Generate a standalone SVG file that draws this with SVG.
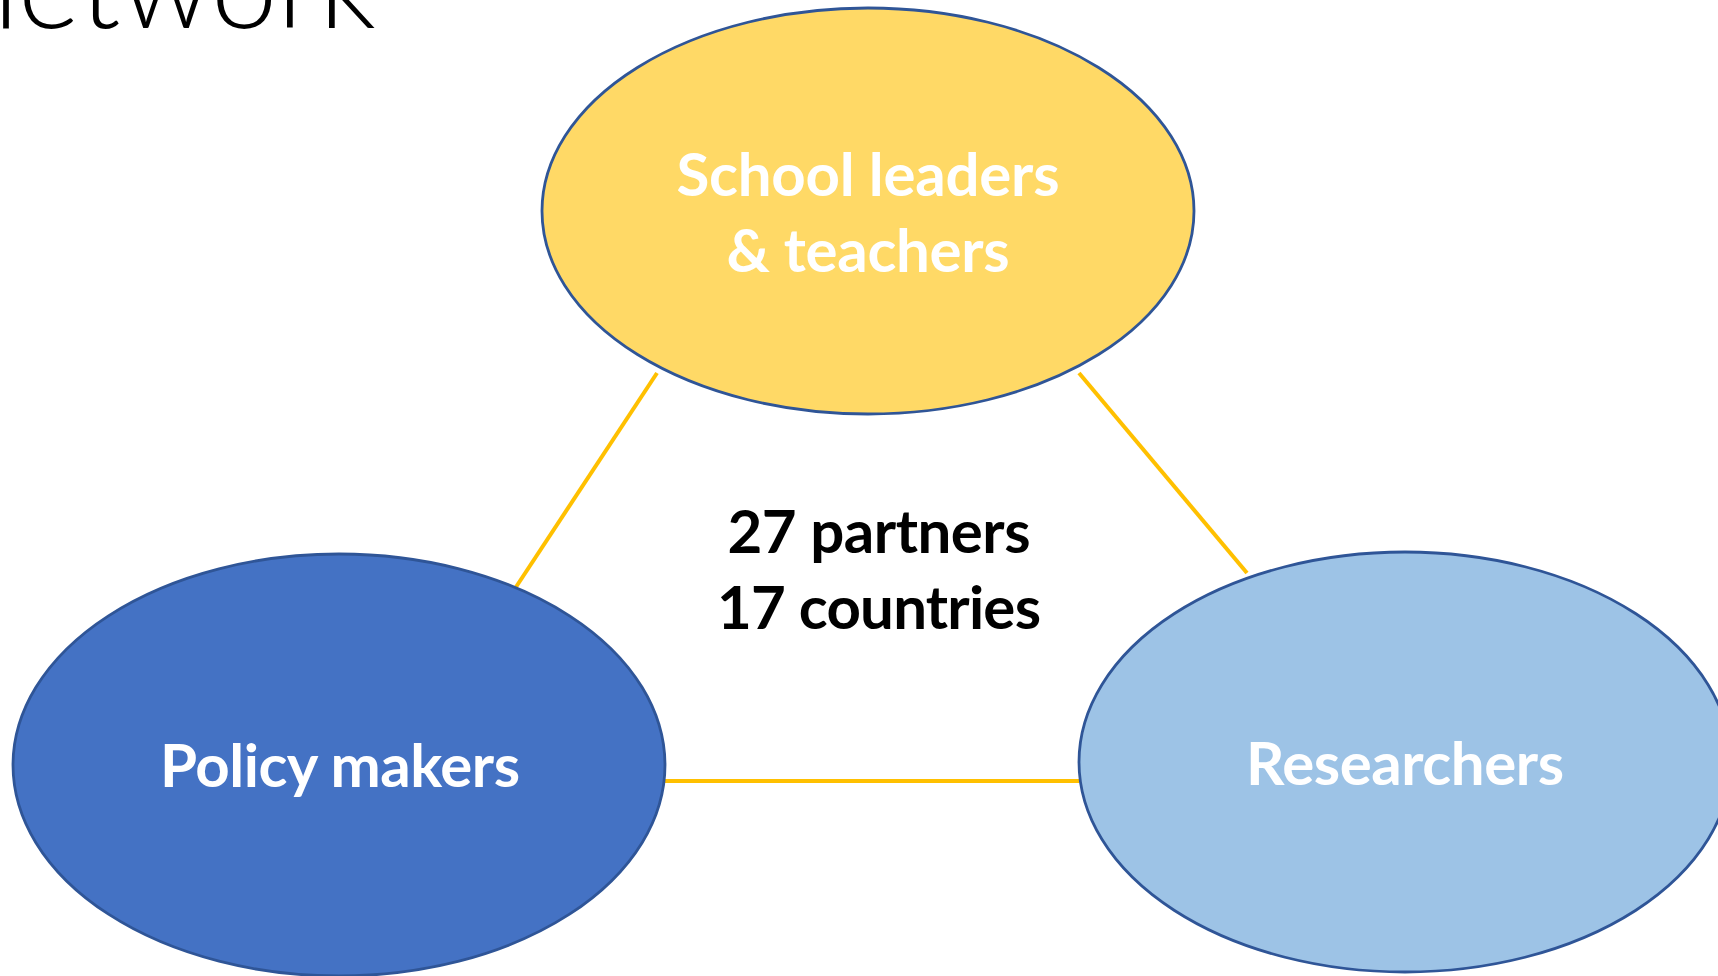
<svg xmlns="http://www.w3.org/2000/svg" width="1718" height="976" viewBox="0 0 1718 976">
  <style>
    .node { stroke: #2F5597; stroke-width: 2.8; }
    .label { font-family: "Lato", "Liberation Sans", sans-serif; font-weight: 700; font-size: 60px; text-anchor: middle; fill: #FFFFFF; }
    .center { font-family: "Lato", "Liberation Sans", sans-serif; font-weight: 700; font-size: 60px; text-anchor: middle; fill: #000000; }
    .title { font-family: "Lato", "Liberation Sans", sans-serif; font-weight: 300; font-size: 119px; fill: #000000; }
    .link { stroke: #FFC000; stroke-width: 4; fill: none; }
  </style>
  <rect width="1718" height="976" fill="#FFFFFF"/>

  <!-- slide title, partly above the top edge -->
  <text class="title" x="376" y="28" text-anchor="end">network</text>

  <!-- connectors between the three groups -->
  <g id="connectors">
    <line class="link" x1="657" y1="373" x2="516" y2="587"/>
    <line class="link" x1="1079" y1="373" x2="1247" y2="573"/>
    <line class="link" x1="665" y1="781" x2="1079" y2="781"/>
  </g>

  <g id="school-leaders">
    <ellipse class="node" cx="868" cy="211" rx="326" ry="203" fill="#FFD966"/>
    <text class="label" x="868" y="196" textLength="383">School leaders</text>
    <text class="label" x="868" y="272" textLength="283">&amp; teachers</text>
  </g>

  <g id="policy-makers">
    <ellipse class="node" cx="339" cy="765" rx="326" ry="211" fill="#4472C4"/>
    <text class="label" x="340" y="787" textLength="360">Policy makers</text>
  </g>

  <g id="researchers">
    <ellipse class="node" cx="1405" cy="762" rx="326" ry="210" fill="#9DC3E6"/>
    <text class="label" x="1405" y="785" textLength="318">Researchers</text>
  </g>

  <g id="summary">
    <text class="center" x="879" y="553" textLength="303">27 partners</text>
    <text class="center" x="879" y="629" textLength="324">17 countries</text>
  </g>
</svg>
